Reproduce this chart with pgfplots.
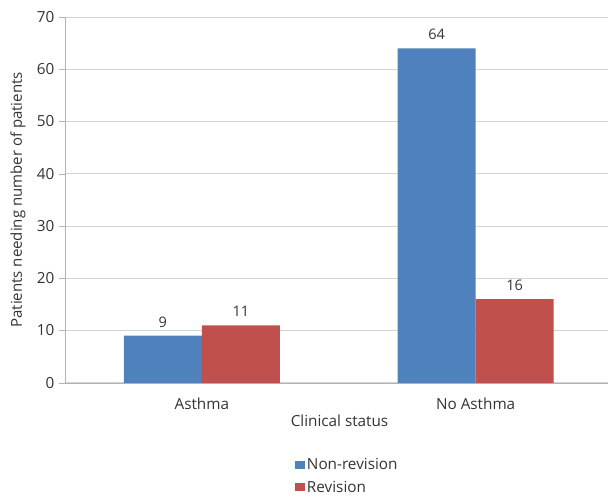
\documentclass[border=0pt]{standalone}
\usepackage{pgfplots}
\pgfplotsset{compat=1.18}
\usepackage{fontspec}
\setmainfont{Open Sans}
\definecolor{xblue}{HTML}{4F81BD}
\definecolor{xred}{HTML}{C0504D}
\definecolor{xgrid}{HTML}{D4D4D4}
\definecolor{xtext}{HTML}{333333}
\begin{document}
\begin{tikzpicture}[x=1pt,y=1pt]
\begin{axis}[
  at={(0,0)}, anchor=south west,
  scale only axis, width=543pt, height=366pt,
  font=\fontsize{15.3}{18}\selectfont, text=xtext,
  ymin=0, ymax=70, ytick={0,10,...,70},
  xmin=-0.5, xmax=1.482,
  xtick={0,1}, xticklabels={Asthma,No Asthma},
  extra x ticks={0.5}, extra x tick labels={},
  extra x tick style={grid=none, major tick length=5pt, tick style={draw=gray!60}},
  x tick style={draw=none},
  major tick length=6pt,
  tick align=outside,
  y tick style={draw=gray!60},
  axis lines*=left,
  axis line style={draw=gray!60, -},
  ymajorgrids, grid style={draw=xgrid, line width=0.8pt},
  ybar=0pt, bar width=78pt,
  xticklabel style={yshift=-6pt},
  yticklabel style={xshift=-1pt},
  /pgf/number format/assume math mode=true,
  ylabel={Patients needing number of patients},
  ylabel style={at={(axis description cs:-0.0866,0.5)}, anchor=center, font=\fontsize{15}{17}\selectfont},
  xlabel={Clinical status},
  xlabel style={at={(axis description cs:0.506,-0.104)}, anchor=center},
  nodes near coords,
  nodes near coords style={font=\fontsize{14.5}{17}\selectfont, yshift=5pt},
  legend style={at={(axis description cs:0.418,-0.195)}, anchor=north west, draw=none,
    font=\fontsize{15.3}{18}\selectfont, row sep=6pt, legend cell align=left,
    /tikz/every even column/.append style={column sep=0pt}},
  legend image code/.code={\fill[#1] (0pt,-4pt) rectangle (10pt,4pt);},
]
\addplot[fill=xblue, draw=none] coordinates {(0,9) (1,64)};
\addplot[fill=xred, draw=none] coordinates {(0,11) (1,16)};
\legend{Non-revision,Revision}
\end{axis}
\path[use as bounding box] (-65,-114) rectangle (543,383);
\end{tikzpicture}
\end{document}
